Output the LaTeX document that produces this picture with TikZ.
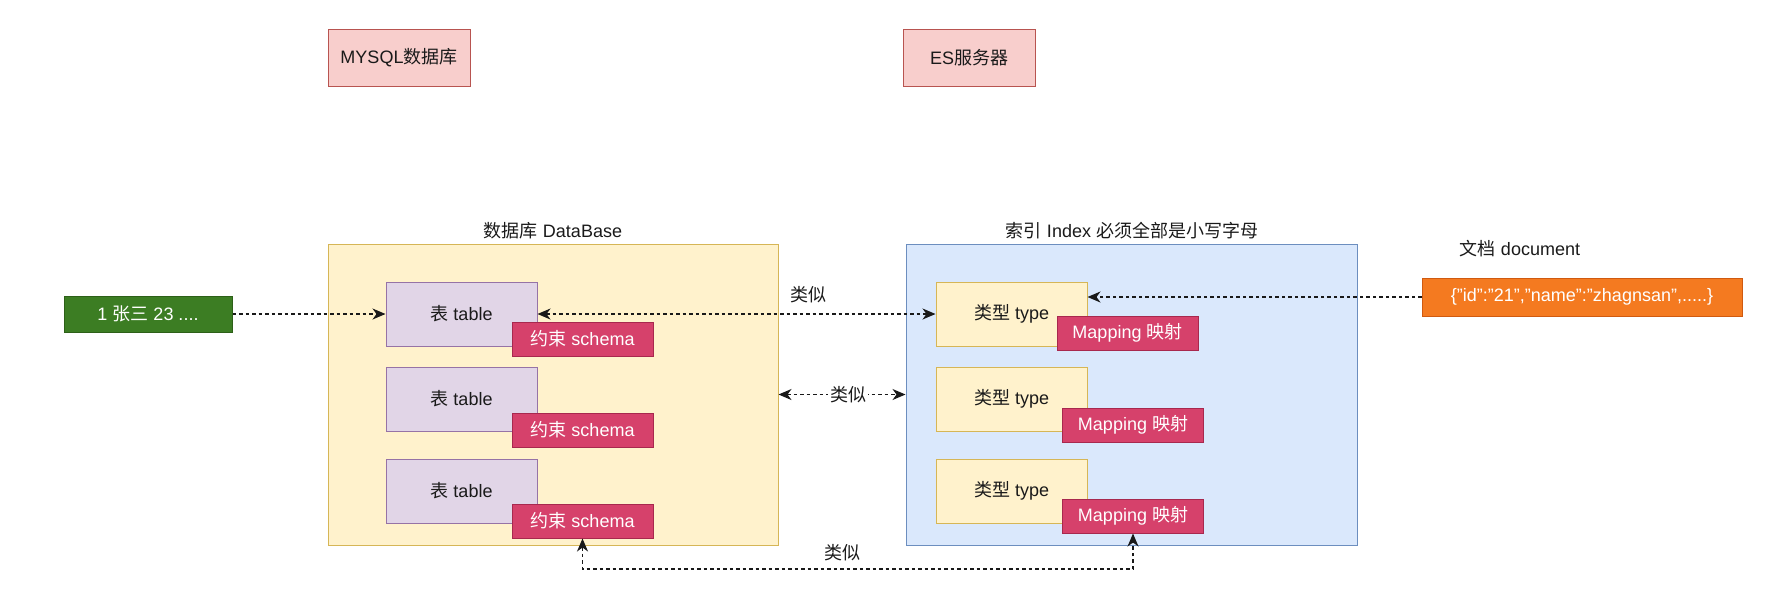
\documentclass[tikz,border=0pt]{standalone}
\usepackage{fontspec}
\setmainfont{Liberation Sans}
\newfontfamily\cjk{Noto Sans CJK SC}
\usetikzlibrary{arrows.meta,calc}
\definecolor{pinkF}{HTML}{F8CECC}
\definecolor{pinkS}{HTML}{B85450}
\definecolor{yelF}{HTML}{FFF2CC}
\definecolor{yelS}{HTML}{D6B656}
\definecolor{bluF}{HTML}{DAE8FC}
\definecolor{bluS}{HTML}{6C8EBF}
\definecolor{purF}{HTML}{E1D5E7}
\definecolor{purS}{HTML}{9673A6}
\definecolor{redF}{HTML}{D6416B}
\definecolor{redS}{HTML}{A8284E}
\definecolor{grnF}{HTML}{3C7D23}
\definecolor{grnS}{HTML}{2D6018}
\definecolor{orgF}{HTML}{F47A20}
\definecolor{orgS}{HTML}{D05A10}
\definecolor{txt}{HTML}{1A1A1A}
\tikzset{
  box/.style={draw, line width=1pt, inner sep=0pt, text=txt, font=\fontsize{18}{21}\selectfont},
  lbl/.style={inner sep=1pt, text=txt, font=\fontsize{18}{21}\selectfont},
  pinkbox/.style={box, fill=pinkF, draw=pinkS},
  tablebox/.style={box, fill=purF, draw=purS, minimum width=151pt, minimum height=64pt},
  typebox/.style={box, fill=yelF, draw=yelS, minimum width=151pt, minimum height=64pt},
  tagbox/.style={box, fill=redF, draw=redS, text=white, minimum width=141pt, minimum height=34pt},
  conn/.style={line width=1.3pt, dash pattern=on 3.5pt off 3pt, draw=black!90},
  tip/.style={-{Stealth[length=13pt,width=11pt,inset=4pt]}},
  tips/.style={{Stealth[length=13pt,width=11pt,inset=4pt]}-{Stealth[length=13pt,width=11pt,inset=4pt]}},
}
\begin{document}
\begin{tikzpicture}[x=1pt,y=-1pt]
\useasboundingbox (0,0) rectangle (1784,590);

% top server boxes
\node[pinkbox, minimum width=142pt, minimum height=57pt] (mysql) at (399,57.5) {MYSQL{\cjk 数据库}};
\node[pinkbox, minimum width=132pt, minimum height=57pt] (es) at (969,57.5) {ES{\cjk 服务器}};

% containers
\node[box, fill=yelF, draw=yelS, minimum width=450pt, minimum height=301pt] (db) at (553,394.5) {};
\node[box, fill=bluF, draw=bluS, minimum width=451pt, minimum height=301pt] (idx) at (1131.5,394.5) {};
\node[lbl] (dblbl) at (553,231) {{\cjk 数据库} DataBase};
\node[lbl] (idxlbl) at (1132,231) {{\cjk 索引} Index {\cjk 必须全部是小写字母}};

% tables
\node[tablebox] (t1) at (461.5,314) {{\cjk 表} table};
\node[tablebox] (t2) at (461.5,399) {{\cjk 表} table};
\node[tablebox] (t3) at (461.5,491) {{\cjk 表} table};
\node[tagbox] (s1) at (582.5,339) {{\cjk 约束} schema};
\node[tagbox] (s2) at (582.5,430) {{\cjk 约束} schema};
\node[tagbox] (s3) at (582.5,521) {{\cjk 约束} schema};

% types
\node[typebox] (y1) at (1011.5,314) {{\cjk 类型} type};
\node[typebox] (y2) at (1011.5,399) {{\cjk 类型} type};
\node[typebox] (y3) at (1011.5,491) {{\cjk 类型} type};
\node[tagbox] (m1) at (1127.5,333) {Mapping {\cjk 映射}};
\node[tagbox] (m2) at (1133,425) {Mapping {\cjk 映射}};
\node[tagbox] (m3) at (1133,516) {Mapping {\cjk 映射}};

% data row and document
\node[box, fill=grnF, draw=grnS, text=white, minimum width=168pt, minimum height=36pt] (row) at (148,314) {1 {\cjk 张三} 23 ....};
\node[box, fill=orgF, draw=orgS, text=white, minimum width=320pt, minimum height=38pt] (doc) at (1582,297) {\{"id":"21","name":"zhagnsan",.....\}};
\node[lbl] (doclbl) at (1520,249) {{\cjk 文档} document};

% connectors
\draw[conn, tip] (row.east) -- (t1.west);
\draw[conn, tips] (t1.east) -- (y1.west);
\node[lbl] (sim1) at (808,295) {\cjk 类似};
\draw[conn, tip] (doc.west) -- (doc.west -| y1.east);
\draw[conn, tips] (db.east) -- (idx.west) node[lbl, pos=0.55, fill=white, inner sep=2pt] (sim2) {\cjk 类似};
\coordinate (bot) at (0,569);
\draw[conn, tips] (s3.south) |- (m3.south |- bot) -- (m3.south);
\node[lbl] (sim3) at (842,553) {\cjk 类似};
\end{tikzpicture}
\end{document}
